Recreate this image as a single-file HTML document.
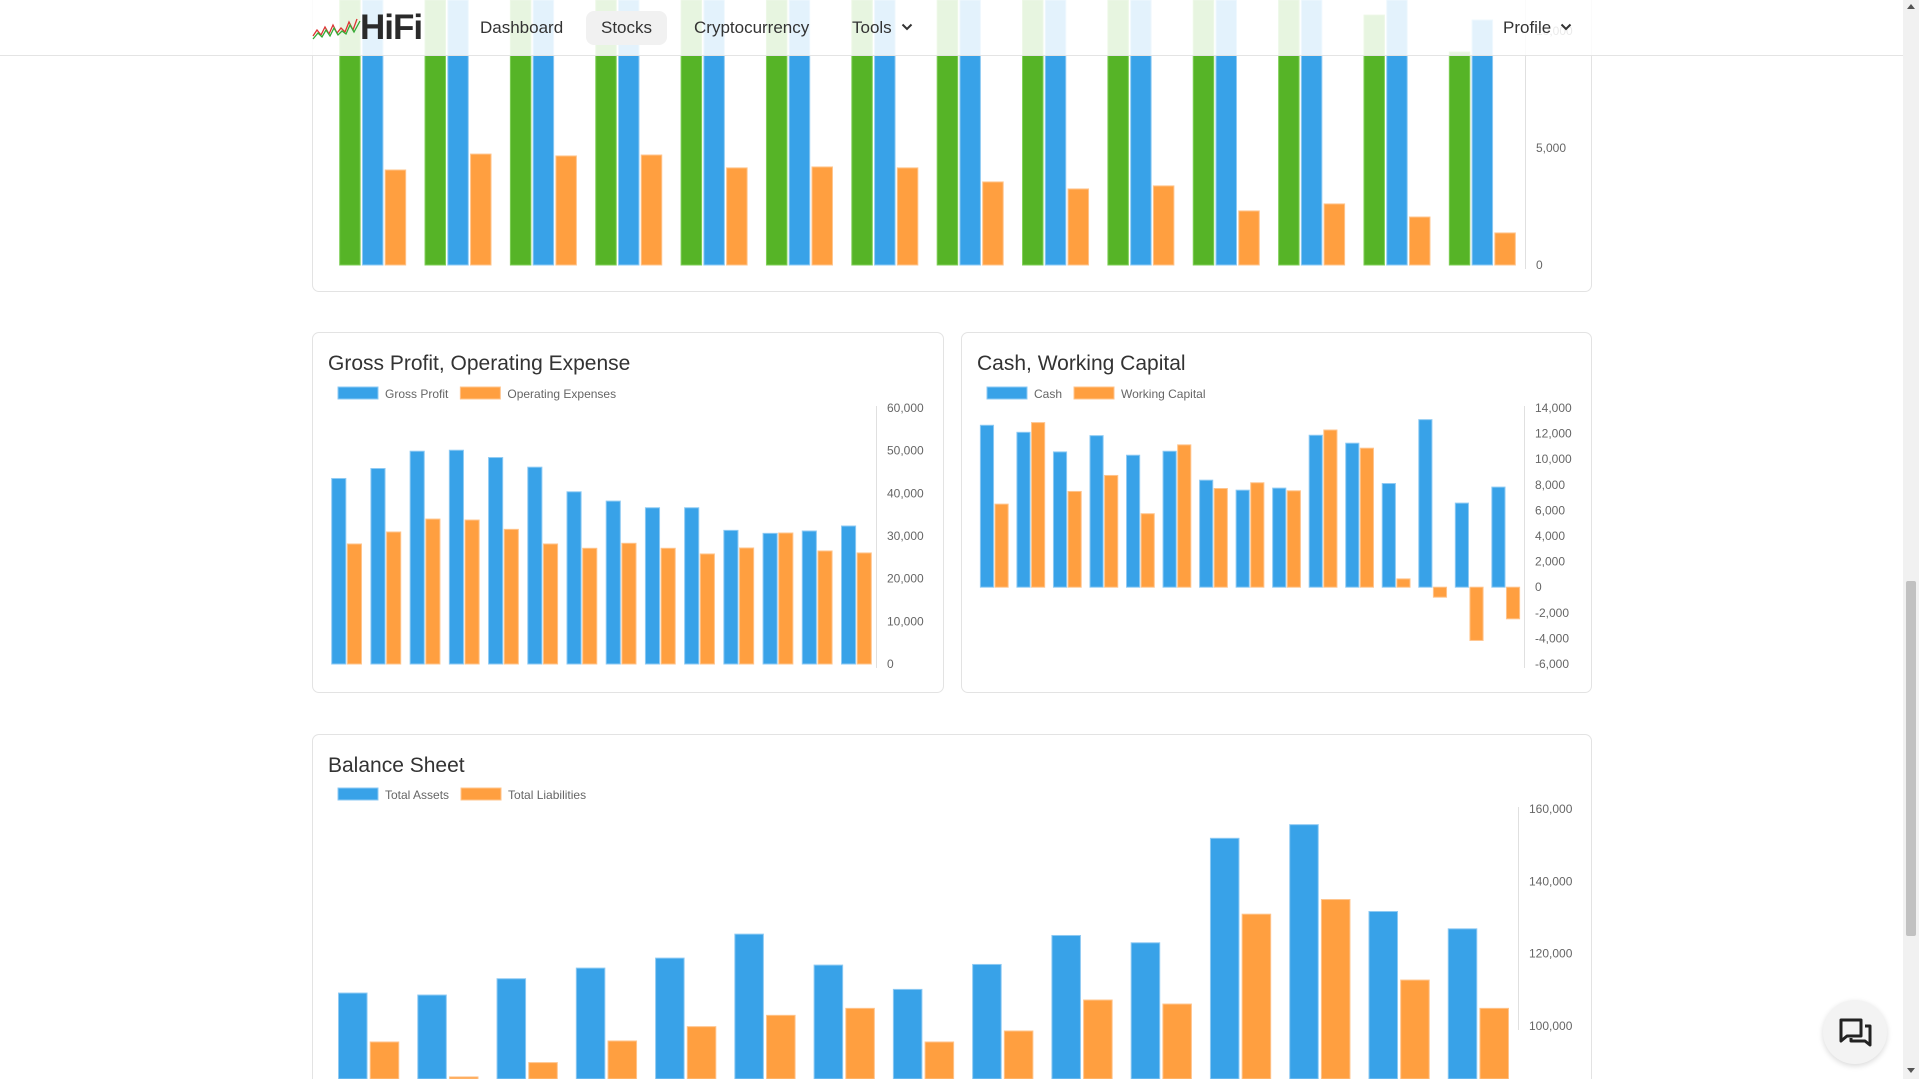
<!DOCTYPE html>
<html><head><meta charset="utf-8"><title>HiFi Stocks</title>
<style>
html,body{margin:0;padding:0;width:1919px;height:1079px;overflow:hidden;background:#fff;font-family:"Liberation Sans",sans-serif;}
#stage{position:absolute;left:0;top:0;width:1919px;height:1079px;overflow:hidden;}
.card{position:absolute;border:1px solid #e3e3e3;border-radius:7px;background:#fff;box-sizing:border-box;}
.title{position:absolute;font-size:21px;color:#333;font-weight:500;}
#nav{position:absolute;left:0;top:0;width:1903px;height:56px;background:rgba(255,255,255,0.86);border-bottom:1px solid #e4e4e4;box-sizing:border-box;}
.nav-item{position:absolute;top:11px;height:34px;line-height:34px;font-size:17px;color:#333;padding:0 15px;border-radius:8px;}
.chev{display:inline-block;vertical-align:middle;margin-left:9px;margin-top:-3px;}
</style></head>
<body>
<div id="stage">
  <div class="card" style="left:312px;top:0px;width:1280px;height:292px;border-top:none;border-radius:0 0 7px 7px;"></div>
  <div class="card" style="left:312px;top:332px;width:632px;height:361px;">
    <div class="title" style="left:15px;top:19px;">Gross Profit, Operating Expense</div>
  </div>
  <div class="card" style="left:961px;top:332px;width:631px;height:361px;">
    <div class="title" style="left:15px;top:19px;">Cash, Working Capital</div>
  </div>
  <div class="card" style="left:312px;top:734px;width:1280px;height:345px;border-bottom:none;border-radius:7px 7px 0 0;">
    <div class="title" style="left:15px;top:19px;">Balance Sheet</div>
  </div>
  <svg id="charts" width="1919" height="1079" style="position:absolute;left:0;top:0"></svg>

  <div id="nav">
    <svg style="position:absolute;left:312px;top:16px" width="50" height="26">
      <polyline points="1,20 5,14 9,19 13,11 17,18 21,9 25,17 29,12 33,16 37,6 41,14 45,3" fill="none" stroke="#d33" stroke-width="1.3"/>
      <polyline points="1,23 6,17 10,21 14,14 18,20 22,12 26,19 30,15 34,18 38,9 42,16 48,5" fill="none" stroke="#3a3" stroke-width="1.3"/>
    </svg>
    <div style="position:absolute;left:360px;top:8px;font-size:35px;font-weight:bold;color:#2a2a2a;letter-spacing:-1px">HiFi</div>
    <div class="nav-item" style="left:465px">Dashboard</div>
    <div class="nav-item" style="left:586px;background:#f1f1f1">Stocks</div>
    <div class="nav-item" style="left:679px">Cryptocurrency</div>
    <div class="nav-item" style="left:837px">Tools<svg class="chev" width="12" height="8"><polyline points="1.5,1.5 6,6 10.5,1.5" fill="none" stroke="#333" stroke-width="2"/></svg></div>
    <div class="nav-item" style="left:1488px">Profile<svg class="chev" width="12" height="8"><polyline points="1.5,1.5 6,6 10.5,1.5" fill="none" stroke="#333" stroke-width="2"/></svg></div>
  </div>

  <div style="position:absolute;left:1903px;top:0;width:16px;height:1079px;background:#f1f1f1">
    <div style="position:absolute;left:3px;top:581px;width:10px;height:355px;background:#c1c1c1;border-radius:2px"></div>
    <div style="position:absolute;left:4px;top:4px;width:0;height:0;border-left:4px solid transparent;border-right:4px solid transparent;border-bottom:5px solid #555"></div>
    <div style="position:absolute;left:4px;top:1068px;width:0;height:0;border-left:4px solid transparent;border-right:4px solid transparent;border-top:5px solid #555"></div>
  </div>

  <div style="position:absolute;left:1823px;top:1000px;width:64px;height:64px;border-radius:32px;background:#f3f3f3;box-shadow:0 2px 6px rgba(0,0,0,0.15)">
    <svg width="64" height="64" style="position:absolute;left:0;top:0">
      <path d="M18 20 h20 v16 h-14 l-6 5 z" fill="none" stroke="#222" stroke-width="3" stroke-linejoin="round"/>
      <path d="M42 26 h5 v19 l-5 -4 h-14 v-3" fill="none" stroke="#222" stroke-width="3" stroke-linejoin="round"/>
    </svg>
  </div>
</div>

<script>
// ---- Top chart ----
const topCats = ["1","2","3","4","5","6","7","8","9","10","11","12","13","14"];
const topGreen = [12800,12600,12700,12900,12500,12400,12300,12200,12000,11800,11600,11400,10680,9100];
const topBlue = [13200,13000,13100,13300,13000,12900,12800,12700,12500,12300,12100,11900,11500,10470];
const topOrange = [4060,4740,4660,4700,4150,4190,4150,3550,3250,3380,2310,2610,2050,1370];
const topTicks = [0,5000,10000];
// ---- Gross profit ----
const gpCats = ["1","2","3","4","5","6","7","8","9","10","11","12","13","14"];
const grossProfit = [43480,45820,49870,50100,48390,46130,40360,38180,36620,36620,31320,30620,31170,32340];
const opExpenses = [28130,30940,33970,33740,31560,28130,27120,28290,27120,25790,27190,30700,26490,26030];
const gpTicks = [0,10000,20000,30000,40000,50000,60000];
// ---- Cash ----
const cashCats = ["1","2","3","4","5","6","7","8","9","10","11","12","13","14","15"];
const cash = [12650,12100,10570,11840,10310,10620,8360,7580,7740,11870,11250,8100,13090,6570,7820];
const workingCapital = [6490,12860,7480,8730,5740,11120,7710,8160,7530,12280,10860,650,-780,-4160,-2470];
const cashTicks = [-6000,-4000,-2000,0,2000,4000,6000,8000,10000,12000,14000];
// ---- Balance sheet ----
const bsCats = ["1","2","3","4","5","6","7","8","9","10","11","12","13","14","15"];
const totalAssets = [109110,108560,113070,116010,118770,125400,116840,110120,117020,125030,123010,151900,155670,131660,126870];
const totalLiabilities = [95580,85920,89880,95860,99820,102950,104880,95580,98620,107180,106070,130920,134970,112700,104880];
const bsTicks = [100000,120000,140000,160000];

const NS = "http://www.w3.org/2000/svg";
const svg = document.getElementById('charts');
const COLORS = {green:["#56b427","#7fcf57"],blue:["#38a2e8","#8ecaf3"],orange:["#ff9f40","#ffc48c"]};

function mk(tag, attrs){ const e=document.createElementNS(NS,tag); for(const k in attrs) e.setAttribute(k,attrs[k]); return e; }
function fmt(v){ return v.toLocaleString('en-US'); }

function chart(cfg){
  const g = mk('g',{});
  
  
  svg.appendChild(g);
  const yScale = v => cfg.yB - (v-cfg.vmin)/(cfg.vmax-cfg.vmin)*(cfg.yB-cfg.yT);
  const n = cfg.cats.length, k = cfg.series.length;
  const gw = (cfg.x1-cfg.x0)/n, slot = gw*0.8/k, bw = slot*0.9;
  const base = Math.min(yScale(cfg.base), 1079);
  const ax = mk('line',{x1:cfg.x1+0.5,x2:cfg.x1+0.5,y1:cfg.axisTop,y2:Math.min(cfg.yB+4,1079),stroke:"#e0e0e0","stroke-width":1});
  
  
  g.appendChild(ax);
  cfg.ticks.forEach(t=>{
    const tx = mk('text',{x:cfg.x1+11,y:yScale(t)+4,"font-size":12,fill:"#666","font-family":"Liberation Sans, sans-serif"});
    tx.textContent = fmt(t);
    
    
    g.appendChild(tx);
  });
  cfg.series.forEach((s,si)=>{
    s.values.forEach((v,i)=>{
      const cx = cfg.x0 + gw*i + gw*0.1 + slot*si + (slot-bw)/2;
      const yv = Math.max(yScale(v), 0);
      const y = Math.min(yv, base), h = Math.abs(base-yv);
      const r = mk('rect',{x:cx,y:y,width:bw,height:h,fill:COLORS[s.color][0],stroke:COLORS[s.color][1],"stroke-width":1});
      
      
      g.appendChild(r);
    });
  });
  if(cfg.legend){
    let lx = cfg.legend.x;
    cfg.series.forEach(s=>{
      const b = mk('rect',{x:lx,y:cfg.legend.y,width:40,height:12,fill:COLORS[s.color][0],stroke:COLORS[s.color][1],"stroke-width":1});
      
      
      g.appendChild(b);
      const t = mk('text',{x:lx+47,y:cfg.legend.y+11,"font-size":12,fill:"#666","font-family":"Liberation Sans, sans-serif"});
      t.textContent = s.label;
      
      
      g.appendChild(t);
      let w = s.label.length*6;
      try { w = t.getComputedTextLength(); } catch(e) {}
      lx += 47 + w + 12;
    });
  }
}

chart({name:"top-chart",cats:topCats,x0:330,x1:1525,yB:265,yT:148,vmin:0,vmax:5000,base:0,axisTop:0,ticks:topTicks,
  series:[{key:"green",label:"Revenue",color:"green",values:topGreen},{key:"blue",label:"Cost",color:"blue",values:topBlue},{key:"orange",label:"Other",color:"orange",values:topOrange}]});
chart({name:"gross-profit-chart",cats:gpCats,x0:327,x1:876,yB:664,yT:408,vmin:0,vmax:60000,base:0,axisTop:406,ticks:gpTicks,
  legend:{x:338,y:387},
  series:[{key:"gross-profit",label:"Gross Profit",color:"blue",values:grossProfit},{key:"operating-expenses",label:"Operating Expenses",color:"orange",values:opExpenses}]});
chart({name:"cash-chart",cats:cashCats,x0:976,x1:1524,yB:664,yT:408,vmin:-6000,vmax:14000,base:0,axisTop:406,ticks:cashTicks,
  legend:{x:987,y:387},
  series:[{key:"cash",label:"Cash",color:"blue",values:cash},{key:"working-capital",label:"Working Capital",color:"orange",values:workingCapital}]});
chart({name:"balance-sheet-chart",cats:bsCats,x0:329,x1:1518,yB:1026,yT:809,vmin:100000,vmax:160000,base:80000,axisTop:807,ticks:bsTicks,
  legend:{x:338,y:788},
  series:[{key:"total-assets",label:"Total Assets",color:"blue",values:totalAssets},{key:"total-liabilities",label:"Total Liabilities",color:"orange",values:totalLiabilities}]});
</script>
</body></html>
